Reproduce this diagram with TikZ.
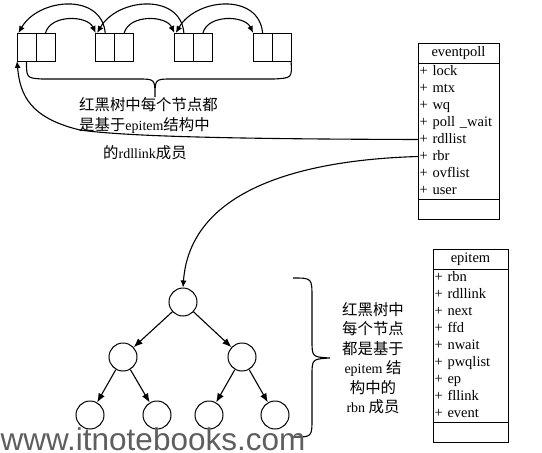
\documentclass[tikz,border=0pt]{standalone}
\usepackage{fontspec}
\setmainfont{Liberation Serif}
\newfontfamily\cjk[Scale=1.1]{Noto Sans CJK SC}
\newfontfamily\wmfont{Liberation Sans}
\usepackage{xcolor,tikz}
\usetikzlibrary{positioning,arrows.meta}
\definecolor{itnInk}{HTML}{000000}
\definecolor{itnMark}{HTML}{5E5E5E}
\newcommand{\zhtxt}[1]{{\cjk #1}}
\tikzset{
  list cell/.style={
    rectangle, draw=itnInk, line width=1pt,
    minimum width=19pt, minimum height=28pt,
    inner sep=0pt, outer sep=0pt,
  },
  list arrow/.style={
    -{Latex[length=7pt, width=6pt]},
    line width=1.1pt, color=itnInk,
  },
  brace line/.style={
    line width=1.1pt, color=itnInk,
  },
  uml head/.style={
    rectangle, draw=itnInk, line width=1pt,
    font=\fontsize{14.5}{16}\selectfont, align=center,
    minimum height=20pt, inner xsep=1.5pt, inner ysep=0pt, outer sep=0pt,
  },
  uml row/.style={
    rectangle, font=\fontsize{14.5}{16}\selectfont, align=left,
    minimum height=17pt, text height=10pt, text depth=3pt,
    inner xsep=1.5pt, inner ysep=0pt, outer sep=0pt,
  },
  uml foot/.style={
    rectangle, draw=itnInk, line width=1pt,
    minimum height=20.5pt, inner xsep=1.5pt, inner ysep=0pt, outer sep=0pt,
  },
  uml line/.style={line width=1pt, color=itnInk},
  ep row/.style={uml row, text width=78pt},
  ei row/.style={uml row, text width=72pt},
  tree node/.style={
    circle, draw=itnInk, line width=1pt,
    minimum size=28pt, inner sep=0pt,
  },
  tree arrow/.style={
    -{Latex[length=9pt, width=7pt]},
    line width=1.1pt, color=itnInk,
  },
  note text/.style={
    font=\fontsize{14}{20}\selectfont, inner sep=0pt, color=itnInk,
  },
  mark text/.style={
    font=\wmfont\fontsize{31.5}{34}\selectfont, inner sep=0pt, color=itnMark,
  },
}

\begin{document}
\begin{tikzpicture}[x=1pt,y=1pt]
\useasboundingbox (0,0) rectangle (542,-453);

% --- ready list (epitem pairs) ---
\def\xO{26.5}
\def\yO{-47}
\def\itemGap{78.7}

\node[list cell] (l1) at (\xO + 0*\itemGap, \yO) {};
\node[list cell, right=0pt of l1] (r1) {};
\node[list cell] (l2) at (\xO + 1*\itemGap, \yO) {};
\node[list cell, right=0pt of l2] (r2) {};
\node[list cell] (l3) at (\xO + 2*\itemGap, \yO) {};
\node[list cell, right=0pt of l3] (r3) {};
\node[list cell] (l4) at (\xO + 3*\itemGap, \yO) {};
\node[list cell, right=0pt of l4] (r4) {};

% next / prev links
\draw[list arrow] (r1.north) to[out=75, in=115] (l2.north west);
\draw[list arrow] (r2.north) to[out=75, in=115] (l3.north west);
\draw[list arrow] (r3.north) to[out=75, in=115] (l4.north west);
\draw[list arrow] (l2.north) to[out=95, in=60, looseness=1.2] (l1.120);
\draw[list arrow] (l3.north) to[out=95, in=60, looseness=1.2] (l2.120);
\draw[list arrow] (l4.north) to[out=95, in=60, looseness=1.2] (l3.120);

% brace under the list
\draw[brace line] (l1.south) .. controls (26.5,-78) .. (42,-79) -- (138,-79)
  .. controls (155,-79) .. (155,-97) .. controls (155,-79) .. (172,-79)
  -- (274,-79) .. controls (292,-78) .. (r4.south east);

\node[note text, anchor=west, align=left] (listnote) at (79,-115)
  {\zhtxt{红黑树中每个节点都}\\\zhtxt{是基于}epitem\zhtxt{结构中}};
\node[note text] (linknote) at (145,-153) {\zhtxt{的}rdllink\zhtxt{成员}};

% --- eventpoll ---
\node[uml head, text width=78pt] (ep) at (458.5,-53) {eventpoll};
\node[ep row, below=0pt of ep] (ep-lock) {+ lock};
\node[ep row, below=0pt of ep-lock] (ep-mtx) {+ mtx};
\node[ep row, below=0pt of ep-mtx] (ep-wq) {+ wq};
\node[ep row, below=0pt of ep-wq] (ep-pollwait) {+ poll \_wait};
\node[ep row, below=0pt of ep-pollwait] (ep-rdllist) {+ rdllist};
\node[ep row, below=0pt of ep-rdllist] (ep-rbr) {+ rbr};
\node[ep row, below=0pt of ep-rbr] (ep-ovflist) {+ ovflist};
\node[ep row, below=0pt of ep-ovflist] (ep-user) {+ user};
\node[uml foot, text width=78pt, below=0pt of ep-user] (ep-foot) {};
\draw[uml line] (ep-lock.north west) rectangle (ep-user.south east);

% --- epitem ---
\node[uml head, text width=72pt] (ei) at (470.5,-259) {epitem};
\node[ei row, below=0pt of ei] (ei-rbn) {+ rbn};
\node[ei row, below=0pt of ei-rbn] (ei-rdllink) {+ rdllink};
\node[ei row, below=0pt of ei-rdllink] (ei-next) {+ next};
\node[ei row, below=0pt of ei-next] (ei-ffd) {+ ffd};
\node[ei row, below=0pt of ei-ffd] (ei-nwait) {+ nwait};
\node[ei row, below=0pt of ei-nwait] (ei-pwqlist) {+ pwqlist};
\node[ei row, below=0pt of ei-pwqlist] (ei-ep) {+ ep};
\node[ei row, below=0pt of ei-ep] (ei-fllink) {+ fllink};
\node[ei row, below=0pt of ei-fllink] (ei-event) {+ event};
\node[uml foot, text width=72pt, below=0pt of ei-event] (ei-foot) {};
\draw[uml line] (ei-rbn.north west) rectangle (ei-event.south east);

% --- red-black tree ---
\node[tree node] (root) at (183,-302) {};
\node[tree node] (ta) at (123,-357) {};
\node[tree node] (tb) at (242,-357) {};
\node[tree node] (taa) at (90,-415) {};
\node[tree node] (tab) at (157,-415) {};
\node[tree node] (tba) at (209,-415) {};
\node[tree node] (tbb) at (275,-415) {};

\draw[tree arrow] (root) -- (ta);
\draw[tree arrow] (root) -- (tb);
\draw[tree arrow] (ta) -- (taa);
\draw[tree arrow] (ta) -- (tab);
\draw[tree arrow] (tb) -- (tba);
\draw[tree arrow] (tb) -- (tbb);

% brace beside the tree
\draw[brace line] (293,-278) .. controls (312,-278) .. (312,-298) -- (312,-340)
  .. controls (312,-357) .. (330,-358) .. controls (312,-359) .. (312,-376)
  -- (312,-418) .. controls (312,-437) .. (294,-437);

\node[note text, align=center, font=\fontsize{14}{19.5}\selectfont] (rbnnote) at (373,-358)
  {\zhtxt{红黑树中}\\\zhtxt{每个节点}\\\zhtxt{都是基于}\\epitem\ \zhtxt{结}\\\zhtxt{构中的}\\rbn\ \zhtxt{成员}};

% --- links from eventpoll ---
\draw[list arrow] (ep-rdllist.west) .. controls (250,-139) and (130,-137) .. (80,-130)
  .. controls (30,-118) and (20,-95) .. (l1.south west);
\draw[list arrow] (ep-rbr.west) .. controls (300,-160) and (190,-190) .. (root.north);

\node[mark text, anchor=base west] (mark) at (0.5,-450) {www.itnotebooks.com};

\end{tikzpicture}
\end{document}
